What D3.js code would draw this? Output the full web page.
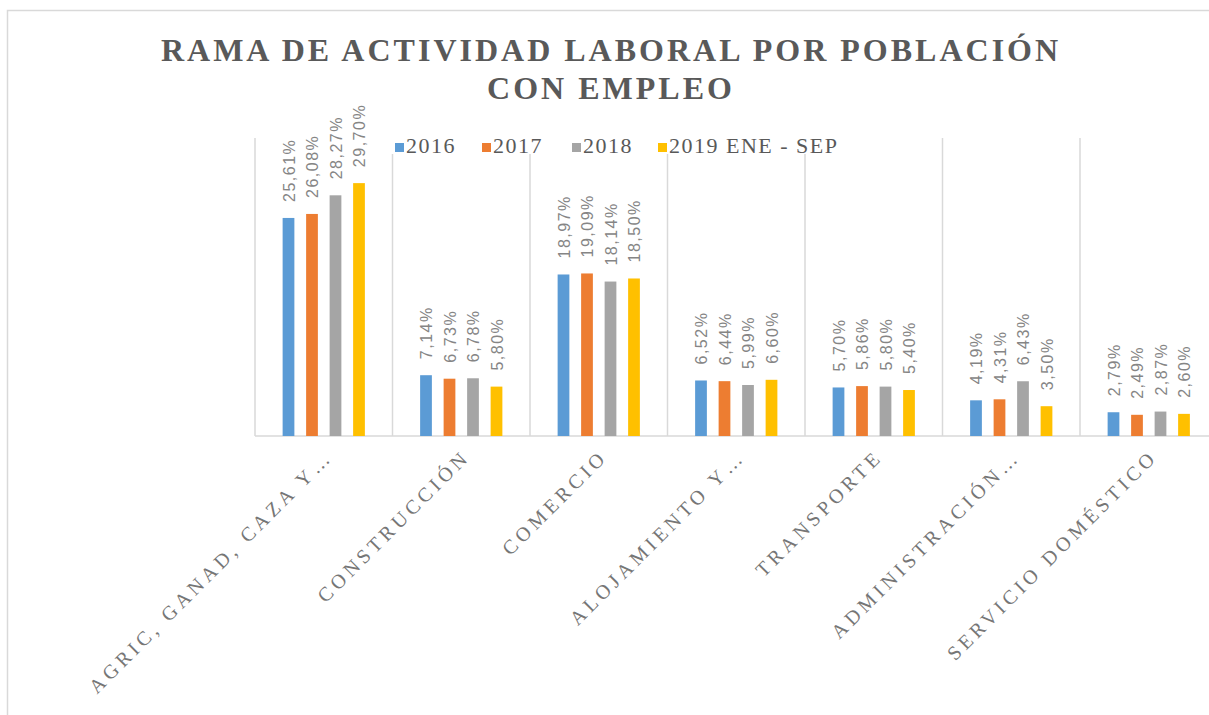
<!DOCTYPE html>
<html>
<head>
<meta charset="utf-8">
<script src="https://cdn.jsdelivr.net/npm/d3@7"></script>
<style>
  body { margin: 0; background: #fff; }
</style>
</head>
<body>
<div id="wrapper"></div>
<script>
const categories = ["AGRIC, GANAD, CAZA Y…", "CONSTRUCCIÓN", "COMERCIO", "ALOJAMIENTO Y…", "TRANSPORTE", "ADMINISTRACIÓN…", "SERVICIO DOMÉSTICO"]
const seriesNames = ["2016", "2017", "2018", "2019 ENE - SEP"]
const values2016 = [25.61, 7.14, 18.97, 6.52, 5.70, 4.19, 2.79]
const values2017 = [26.08, 6.73, 19.09, 6.44, 5.86, 4.31, 2.49]
const values2018 = [28.27, 6.78, 18.14, 5.99, 5.80, 6.43, 2.87]
const values2019 = [29.70, 5.80, 18.50, 6.60, 5.40, 3.50, 2.60]
const colors = ["#5b9bd5", "#ed7d31", "#a5a5a5", "#ffc000"]
const titleLines = ["RAMA DE ACTIVIDAD LABORAL POR POBLACIÓN", "CON EMPLEO"]

const allSeries = [values2016, values2017, values2018, values2019]

// dimensions of the picture and of the plot area inside it
let dimensions = {
    width: 1209,
    height: 715,
    margin: { top: 138, left: 255 },
}
dimensions.boundedWidth = 7 * 137.5
dimensions.boundedHeight = 436 - dimensions.margin.top

const wrapper = d3.select("#wrapper")
    .append("svg")
        .attr("width", dimensions.width)
        .attr("height", dimensions.height)
        .style("display", "block")

// the light grey frame of the chart
wrapper.append("rect")
    .attr("x", 7.5)
    .attr("y", 10.5)
    .attr("width", 1230)
    .attr("height", 730)
    .attr("fill", "#fff")
    .attr("stroke", "#d9d9d9")
    .attr("stroke-width", 1.5)

// title, two lines
wrapper.append("g").selectAll("text")
    .data(titleLines)
    .join("text")
        .attr("x", 611)
        .attr("y", (d, i) => 61 + i * 38)
        .attr("text-anchor", "middle")
        .style("font-family", "'Liberation Serif', 'Times New Roman', serif")
        .style("font-weight", "bold")
        .style("font-size", "32px")
        .style("letter-spacing", "3px")
        .attr("fill", "#595959")
        .text(d => d)

const bounds = wrapper.append("g")
    .attr("transform", `translate(${dimensions.margin.left}, ${dimensions.margin.top})`)

const xScale = d3.scaleBand()
    .domain(categories)
    .range([0, dimensions.boundedWidth])

const innerScale = d3.scaleBand()
    .domain(seriesNames)
    .range([21.75, 115.75])
    .paddingInner(0.5)
    .paddingOuter(0.25)

const yScale = d3.scaleLinear()
    .domain([0, 35])
    .range([dimensions.boundedHeight, 0])

// vertical separators between categories
bounds.append("g").selectAll("line")
    .data(d3.range(categories.length + 1))
    .join("line")
        .attr("x1", i => i * xScale.step())
        .attr("x2", i => i * xScale.step())
        .attr("y1", 0)
        .attr("y2", dimensions.boundedHeight)
        .attr("stroke", "#d9d9d9")
        .attr("stroke-width", 1.5)

// baseline
bounds.append("line")
    .attr("x1", 0)
    .attr("x2", dimensions.boundedWidth)
    .attr("y1", yScale(0))
    .attr("y2", yScale(0))
    .attr("stroke", "#d9d9d9")
    .attr("stroke-width", 1.5)

// bars, one group per year
const fmt = v => v.toFixed(2).replace(".", ",") + "%"
const groups = bounds.selectAll(".series")
    .data(allSeries)
    .join("g")
        .attr("class", "series")

groups.selectAll("rect")
    .data((vals, si) => vals.map((v, ci) => ({ v, ci, si })))
    .join("rect")
        .attr("x", d => xScale(categories[d.ci]) + innerScale(seriesNames[d.si]))
        .attr("width", innerScale.bandwidth())
        .attr("y", d => yScale(d.v))
        .attr("height", d => yScale(0) - yScale(d.v))
        .attr("fill", d => colors[d.si])

// rotated value labels above the bars
groups.selectAll("text")
    .data((vals, si) => vals.map((v, ci) => ({ v, ci, si })))
    .join("text")
        .attr("transform", d => {
            const cx = xScale(categories[d.ci]) + innerScale(seriesNames[d.si]) + innerScale.bandwidth() / 2 + 6
            const cy = yScale(d.v) - 16
            return `translate(${cx}, ${cy}) rotate(-90)`
        })
        .style("font-family", "'Liberation Sans', Arial, sans-serif")
        .style("font-size", "16px")
        .style("letter-spacing", "1.5px")
        .attr("fill", "#858585")
        .text(d => fmt(d.v))

// category labels at -45 degrees
bounds.append("g").selectAll("text")
    .data(categories)
    .join("text")
        .attr("transform", d => `translate(${xScale(d) + xScale.bandwidth() / 2 + 10}, ${dimensions.boundedHeight + 22}) rotate(-45)`)
        .attr("text-anchor", "end")
        .style("font-family", "'Liberation Serif', 'Times New Roman', serif")
        .style("font-size", "20px")
        .style("letter-spacing", "4.2px")
        .attr("fill", "#767676")
        .text(d => d)

// legend, with a white box that hides the separators behind it
const legend = wrapper.append("g")
legend.append("rect")
    .attr("x", 390)
    .attr("y", 130)
    .attr("width", 452)
    .attr("height", 24)
    .attr("fill", "#fff")

const legendX = [395, 482, 572, 658]
const items = legend.selectAll(".item")
    .data(seriesNames)
    .join("g")
        .attr("class", "item")
        .attr("transform", (d, i) => `translate(${legendX[i]}, 0)`)
items.append("rect")
    .attr("x", 0)
    .attr("y", 143)
    .attr("width", 9)
    .attr("height", 9)
    .attr("fill", (d, i) => colors[i])
items.append("text")
    .attr("x", 11)
    .attr("y", 153)
    .style("font-family", "'Liberation Serif', 'Times New Roman', serif")
    .style("font-size", "22px")
    .style("letter-spacing", "1.5px")
    .attr("fill", "#595959")
    .text(d => d)
</script>
</body>
</html>
